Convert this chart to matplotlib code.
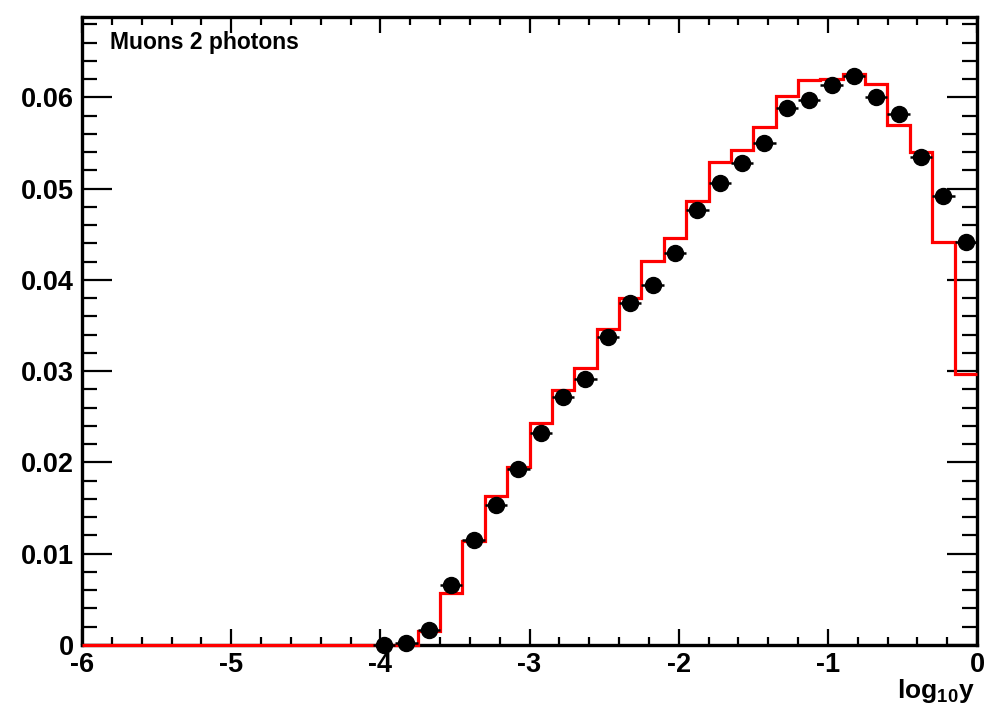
import numpy as np
import matplotlib
matplotlib.use("Agg")
import matplotlib.pyplot as plt
from matplotlib.ticker import MultipleLocator, FixedLocator

plt.rcParams['font.family'] = ['Liberation Sans', 'DejaVu Sans']
plt.rcParams['font.weight'] = 'bold'
plt.rcParams['axes.unicode_minus'] = False
plt.rcParams['mathtext.fontset'] = 'custom'
plt.rcParams['mathtext.bf'] = 'Liberation Sans:bold'
plt.rcParams['mathtext.rm'] = 'Liberation Sans:bold'
plt.rcParams['mathtext.it'] = 'Liberation Sans:bold'

# Histogram binning (log10 y)
x_min, x_max, n_bins = -6.0, 0.0, 40
bin_edges = np.linspace(x_min, x_max, n_bins + 1)

# MC prediction (red histogram), one value per bin
mc_values = [0, 0, 0, 0, 0, 0, 0, 0, 0, 0,
             0, 0, 0, 0, 0, 0.0015, 0.0057, 0.0114, 0.0163, 0.0195,
             0.0243, 0.0279, 0.0304, 0.0346, 0.0380, 0.0421, 0.0446, 0.0486, 0.0529, 0.0542,
             0.0567, 0.0602, 0.0619, 0.0620, 0.0626, 0.0615, 0.0570, 0.0540, 0.0441, 0.0297]

# Data points (black markers), bins 13..39
data_first_bin = 13
data_values = [0.0, 0.0002, 0.0016, 0.0066, 0.0115, 0.0153, 0.0193, 0.0232, 0.0272,
               0.0291, 0.0337, 0.0375, 0.0394, 0.0429, 0.0477, 0.0506, 0.0528, 0.0550,
               0.0588, 0.0597, 0.0613, 0.0623, 0.0600, 0.0582, 0.0535, 0.0492, 0.0441]

x_ticks = [-6, -5, -4, -3, -2, -1, 0]
y_ticks = [0, 0.01, 0.02, 0.03, 0.04, 0.05, 0.06]
y_tick_labels = ['0', '0.01', '0.02', '0.03', '0.04', '0.05', '0.06']
title_text = 'Muons 2 photons'

fig = plt.figure(figsize=(9.95, 7.05), dpi=100)
ax = fig.add_axes([82/995, 60/705, 895/995, 628/705])

centers = 0.5 * (bin_edges[:-1] + bin_edges[1:])
half_w = 0.5 * (bin_edges[1] - bin_edges[0])
dc = centers[data_first_bin:data_first_bin + len(data_values)]

ax.stairs(mc_values, bin_edges, baseline=None, color='#ff0000', linewidth=2.3,
          zorder=4, clip_on=False)
ax.errorbar(dc, data_values, xerr=half_w, yerr=0.0003, fmt='o', color='black',
            markersize=11.5, elinewidth=1.8, capsize=0, zorder=5, clip_on=False)

ax.set_xlim(x_min, x_max)
ax.set_ylim(0, 0.0688)

ax.xaxis.set_major_locator(FixedLocator(x_ticks))
ax.xaxis.set_minor_locator(MultipleLocator(0.2))
ax.yaxis.set_major_locator(FixedLocator(y_ticks))
ax.yaxis.set_minor_locator(MultipleLocator(0.002))
ax.set_xticklabels([str(v) for v in x_ticks])
ax.set_yticklabels(y_tick_labels)

for s in ax.spines.values():
    s.set_linewidth(2.4)
    s.set_zorder(3)

ax.tick_params(axis='x', which='major', direction='in', length=11.5, width=1.6,
               top=True, bottom=True, labelsize=19.5, pad=5)
ax.tick_params(axis='x', which='minor', direction='in', length=5.8, width=1.6,
               top=True, bottom=True)
ax.tick_params(axis='y', which='major', direction='in', length=21.5, width=1.6,
               left=True, right=True, labelsize=19.5, pad=6)
ax.tick_params(axis='y', which='minor', direction='in', length=10.8, width=1.6,
               left=True, right=True)
for lab in ax.get_xticklabels() + ax.get_yticklabels():
    lab.set_fontweight('bold')

ax.text((110 - 82)/895, 1 - (42 - 17)/628, title_text, transform=ax.transAxes,
        fontsize=16.5, fontweight='bold', ha='left', va='center')

fig.text(975/995, 1 - 691/705, r'$\mathbf{log_{10}y}$', ha='right', va='center',
         fontsize=19)

fig.savefig('out.png', dpi=100)
